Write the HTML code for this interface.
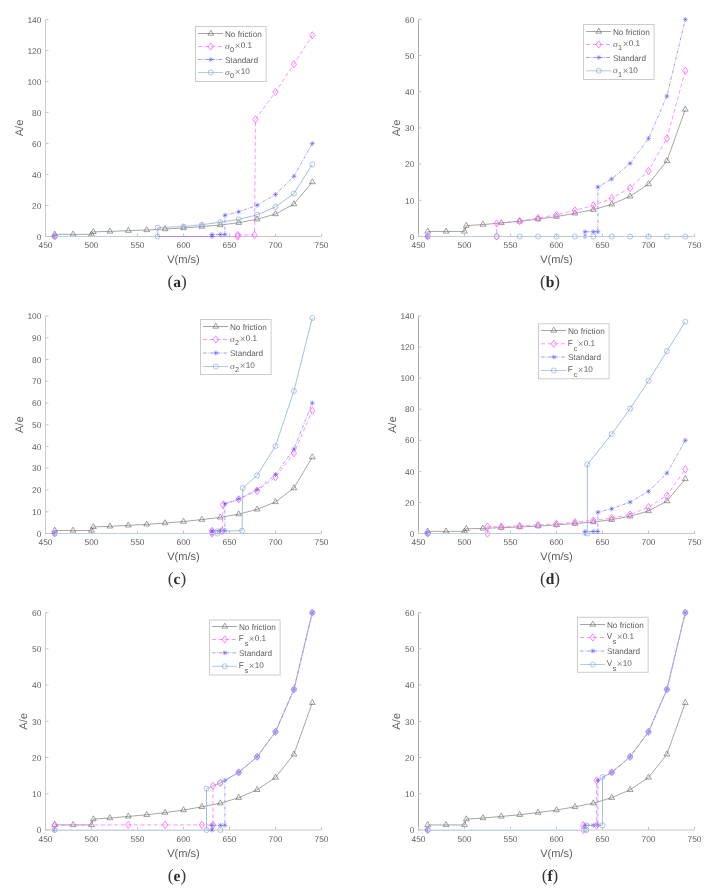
<!DOCTYPE html>
<html><head><meta charset="utf-8"><title>Figure</title>
<style>
html,body{margin:0;padding:0;background:#fff;}
body{width:721px;height:890px;overflow:hidden;}
svg{display:block;will-change:transform;text-rendering:geometricPrecision;font-family:"Liberation Sans",sans-serif;}
</style></head>
<body>
<svg width="721" height="890" viewBox="0 0 721 890">
<rect width="721" height="890" fill="#fff"/>
<path d="M45.5 236.5L321.5 236.5" fill="none" stroke="#c8c8c8" stroke-width="1.0"/>
<path d="M45.5 19.4L45.5 237" fill="none" stroke="#cacaca" stroke-width="1.0"/>
<path d="M45.5 236.5L45.5 233.5M91.5 236.5L91.5 233.5M137.5 236.5L137.5 233.5M183.5 236.5L183.5 233.5M229.5 236.5L229.5 233.5M275.5 236.5L275.5 233.5M321.5 236.5L321.5 233.5M45.5 236.5L48.5 236.5M45.5 205.49L48.5 205.49M45.5 174.47L48.5 174.47M45.5 143.46L48.5 143.46M45.5 112.44L48.5 112.44M45.5 81.43L48.5 81.43M45.5 50.41L48.5 50.41M45.5 19.4L48.5 19.4" fill="none" stroke="#c6c6c6" stroke-width="1.0"/>
<g font-size="8.4" fill="#5e5e5e"><text x="45.5" y="248.3" text-anchor="middle">450</text><text x="91.5" y="248.3" text-anchor="middle">500</text><text x="137.5" y="248.3" text-anchor="middle">550</text><text x="183.5" y="248.3" text-anchor="middle">600</text><text x="229.5" y="248.3" text-anchor="middle">650</text><text x="275.5" y="248.3" text-anchor="middle">700</text><text x="321.5" y="248.3" text-anchor="middle">750</text><text x="41.4" y="239.7" text-anchor="end">0</text><text x="41.4" y="208.69" text-anchor="end">20</text><text x="41.4" y="177.67" text-anchor="end">40</text><text x="41.4" y="146.66" text-anchor="end">60</text><text x="41.4" y="115.64" text-anchor="end">80</text><text x="41.4" y="84.63" text-anchor="end">100</text><text x="41.4" y="53.61" text-anchor="end">120</text><text x="41.4" y="22.6" text-anchor="end">140</text></g>
<text x="183.5" y="263.1" text-anchor="middle" font-size="11.1" fill="#5e5e5e">V(m/s)</text>
<text transform="translate(22.5 127.95) rotate(-90)" text-anchor="middle" font-size="11.1" fill="#5e5e5e">A/e</text>
<text x="177" y="287.3" text-anchor="middle" font-family="Liberation Serif, serif" font-size="17.2" fill="#3a3a3a">(<tspan font-size="15.5" font-weight="bold" fill="#2a2a2a" dy="-0.6">a</tspan><tspan dy="0.6">)</tspan></text>
<path d="M54.7 234.33L73.1 234.33L91.5 234.33L93.34 231.85L109.9 231.38L128.3 230.68L146.7 229.99L165.1 229.06L183.5 227.97L201.9 226.58L220.3 225.02L238.7 222.7L257.1 219.29L275.5 214.01L293.9 204.09L312.3 182.07" fill="none" stroke="#808080" stroke-width="0.7"/>
<g fill="none" stroke="#606060" stroke-width="0.6"><path d="M54.7 231L57.6 236L51.8 236Z"/><path d="M73.1 231L76 236L70.2 236Z"/><path d="M91.5 231L94.4 236L88.6 236Z"/><path d="M93.34 228.51L96.24 233.51L90.44 233.51Z"/><path d="M109.9 228.05L112.8 233.05L107 233.05Z"/><path d="M128.3 227.35L131.2 232.35L125.4 232.35Z"/><path d="M146.7 226.65L149.6 231.65L143.8 231.65Z"/><path d="M165.1 225.72L168 230.72L162.2 230.72Z"/><path d="M183.5 224.64L186.4 229.64L180.6 229.64Z"/><path d="M201.9 223.24L204.8 228.24L199 228.24Z"/><path d="M220.3 221.69L223.2 226.69L217.4 226.69Z"/><path d="M238.7 219.37L241.6 224.37L235.8 224.37Z"/><path d="M257.1 215.95L260 220.95L254.2 220.95Z"/><path d="M275.5 210.68L278.4 215.68L272.6 215.68Z"/><path d="M293.9 200.76L296.8 205.76L291 205.76Z"/><path d="M312.3 178.74L315.2 183.74L309.4 183.74Z"/></g>
<path d="M54.7 236.5L237.78 236.5L237.78 234.95L254.52 234.95L255.44 119.42L275.5 91.97L293.9 64.22L312.3 35.37" fill="none" stroke="#ff66ff" stroke-width="0.7" stroke-dasharray="4 2.6"/>
<g fill="none" stroke="#ff4dff" stroke-width="0.7"><path d="M54.7 232.85L57.35 236.5L54.7 240.15L52.05 236.5Z"/><path d="M237.78 232.85L240.43 236.5L237.78 240.15L235.13 236.5Z"/><path d="M237.78 231.3L240.43 234.95L237.78 238.6L235.13 234.95Z"/><path d="M254.52 231.3L257.17 234.95L254.52 238.6L251.87 234.95Z"/><path d="M255.44 115.77L258.09 119.42L255.44 123.07L252.79 119.42Z"/><path d="M275.5 88.32L278.15 91.97L275.5 95.62L272.85 91.97Z"/><path d="M293.9 60.57L296.55 64.22L293.9 67.87L291.25 64.22Z"/><path d="M312.3 31.72L314.95 35.37L312.3 39.02L309.65 35.37Z"/></g>
<path d="M54.7 236.5L212.02 236.5L212.02 234.48L220.3 234.48L224.9 234.48L224.9 215.26L238.7 211.84L257.1 205.18L275.5 194.48L293.9 176.33L312.3 143.46" fill="none" stroke="#7070ff" stroke-width="0.65" stroke-dasharray="3.4 1.3 0.8 1.3"/>
<g fill="none" stroke="#4f4fff" stroke-width="0.5"><path d="M52.2 236.5L57.2 236.5M54.7 234L54.7 239M52.9 234.7L56.5 238.3M52.9 238.3L56.5 234.7"/><path d="M209.52 236.5L214.52 236.5M212.02 234L212.02 239M210.22 234.7L213.82 238.3M210.22 238.3L213.82 234.7"/><path d="M209.52 234.48L214.52 234.48M212.02 231.98L212.02 236.98M210.22 232.68L213.82 236.28M210.22 236.28L213.82 232.68"/><path d="M217.8 234.48L222.8 234.48M220.3 231.98L220.3 236.98M218.5 232.68L222.1 236.28M218.5 236.28L222.1 232.68"/><path d="M222.4 234.48L227.4 234.48M224.9 231.98L224.9 236.98M223.1 232.68L226.7 236.28M223.1 236.28L226.7 232.68"/><path d="M222.4 215.26L227.4 215.26M224.9 212.76L224.9 217.76M223.1 213.46L226.7 217.06M223.1 217.06L226.7 213.46"/><path d="M236.2 211.84L241.2 211.84M238.7 209.34L238.7 214.34M236.9 210.04L240.5 213.64M236.9 213.64L240.5 210.04"/><path d="M254.6 205.18L259.6 205.18M257.1 202.68L257.1 207.68M255.3 203.38L258.9 206.98M255.3 206.98L258.9 203.38"/><path d="M273 194.48L278 194.48M275.5 191.98L275.5 196.98M273.7 192.68L277.3 196.28M273.7 196.28L277.3 192.68"/><path d="M291.4 176.33L296.4 176.33M293.9 173.83L293.9 178.83M292.1 174.53L295.7 178.13M292.1 178.13L295.7 174.53"/><path d="M309.8 143.46L314.8 143.46M312.3 140.96L312.3 145.96M310.5 141.66L314.1 145.26M310.5 145.26L314.1 141.66"/></g>
<path d="M54.7 236.5L157.74 236.5L157.74 227.66L183.5 226.5L201.9 224.71L220.3 222.23L238.7 219.44L257.1 214.79L275.5 206.88L293.9 193.55L312.3 164.39" fill="none" stroke="#98b2dc" stroke-width="0.85"/>
<path d="M54.7 236.5L157.74 236.5" fill="none" stroke="#bfcce4" stroke-width="1"/>
<g fill="none" stroke="#8aa4d2" stroke-width="0.65"><circle cx="54.7" cy="236.5" r="2.55"/><circle cx="157.74" cy="236.5" r="2.55"/><circle cx="157.74" cy="227.66" r="2.55"/><circle cx="183.5" cy="226.5" r="2.55"/><circle cx="201.9" cy="224.71" r="2.55"/><circle cx="220.3" cy="222.23" r="2.55"/><circle cx="238.7" cy="219.44" r="2.55"/><circle cx="257.1" cy="214.79" r="2.55"/><circle cx="275.5" cy="206.88" r="2.55"/><circle cx="293.9" cy="193.55" r="2.55"/><circle cx="312.3" cy="164.39" r="2.55"/></g>
<rect x="195.5" y="26.5" width="70.6" height="55" fill="#fff" stroke="#cccccc" stroke-width="1"/>
<path d="M198.1 33.5H223.1" stroke="#808080" stroke-width="0.7"/>
<g fill="none" stroke="#606060" stroke-width="0.6"><path d="M210.8 30.17L213.7 35.17L207.9 35.17Z"/></g>
<path d="M198.1 46.5H223.1" stroke="#ff66ff" stroke-width="0.7" stroke-dasharray="4 2.6"/>
<g fill="none" stroke="#ff4dff" stroke-width="0.7"><path d="M210.8 42.85L213.45 46.5L210.8 50.15L208.15 46.5Z"/></g>
<path d="M198.1 59.5H223.1" stroke="#7070ff" stroke-width="0.7" stroke-dasharray="3.4 1.3 0.8 1.3"/>
<g fill="none" stroke="#4f4fff" stroke-width="0.5"><path d="M208.3 59.5L213.3 59.5M210.8 57L210.8 62M209 57.7L212.6 61.3M209 61.3L212.6 57.7"/></g>
<path d="M198.1 72.5H223.1" stroke="#98b2dc" stroke-width="0.7"/>
<g fill="none" stroke="#8aa4d2" stroke-width="0.65"><circle cx="210.8" cy="72.5" r="2.55"/></g>
<text x="224.9" y="36.8" font-size="8.2" fill="#5e5e5e">No friction</text>
<text transform="translate(225 49) scale(1.18 1)" font-family="Liberation Serif, serif" font-style="italic" font-size="8.2" fill="#6a6a6a">&#963;</text><text x="230" y="52.2" font-size="7.3" fill="#5e5e5e">0</text><text x="234.7" y="49.3" font-size="9.8" fill="#8a8a8a">&#215;</text><text x="240.7" y="48.2" font-size="8.2" fill="#5e5e5e">0.1</text>
<text x="224.9" y="62.6" font-size="8.2" fill="#5e5e5e">Standard</text>
<text transform="translate(225 75) scale(1.18 1)" font-family="Liberation Serif, serif" font-style="italic" font-size="8.2" fill="#6a6a6a">&#963;</text><text x="230" y="78.2" font-size="7.3" fill="#5e5e5e">0</text><text x="234.7" y="75.3" font-size="9.8" fill="#8a8a8a">&#215;</text><text x="240.7" y="74.2" font-size="8.2" fill="#5e5e5e">10</text>
<path d="M418.5 236.5L694.5 236.5" fill="none" stroke="#c8c8c8" stroke-width="1.0"/>
<path d="M418.5 19.4L418.5 237" fill="none" stroke="#a9a9a9" stroke-width="1.0"/>
<path d="M418.5 236.5L418.5 233.5M464.5 236.5L464.5 233.5M510.5 236.5L510.5 233.5M556.5 236.5L556.5 233.5M602.5 236.5L602.5 233.5M648.5 236.5L648.5 233.5M694.5 236.5L694.5 233.5M418.5 236.5L421.5 236.5M418.5 200.32L421.5 200.32M418.5 164.13L421.5 164.13M418.5 127.95L421.5 127.95M418.5 91.77L421.5 91.77M418.5 55.58L421.5 55.58M418.5 19.4L421.5 19.4" fill="none" stroke="#c6c6c6" stroke-width="1.0"/>
<g font-size="8.4" fill="#5e5e5e"><text x="418.5" y="248.3" text-anchor="middle">450</text><text x="464.5" y="248.3" text-anchor="middle">500</text><text x="510.5" y="248.3" text-anchor="middle">550</text><text x="556.5" y="248.3" text-anchor="middle">600</text><text x="602.5" y="248.3" text-anchor="middle">650</text><text x="648.5" y="248.3" text-anchor="middle">700</text><text x="694.5" y="248.3" text-anchor="middle">750</text><text x="414.4" y="239.7" text-anchor="end">0</text><text x="414.4" y="203.52" text-anchor="end">10</text><text x="414.4" y="167.33" text-anchor="end">20</text><text x="414.4" y="131.15" text-anchor="end">30</text><text x="414.4" y="94.97" text-anchor="end">40</text><text x="414.4" y="58.78" text-anchor="end">50</text><text x="414.4" y="22.6" text-anchor="end">60</text></g>
<text x="556.5" y="263.1" text-anchor="middle" font-size="11.1" fill="#5e5e5e">V(m/s)</text>
<text transform="translate(400.1 127.95) rotate(-90)" text-anchor="middle" font-size="11.1" fill="#5e5e5e">A/e</text>
<text x="550" y="287.3" text-anchor="middle" font-family="Liberation Serif, serif" font-size="17.2" fill="#3a3a3a">(<tspan font-size="15.5" font-weight="bold" fill="#2a2a2a" dy="-0.6">b</tspan><tspan dy="0.6">)</tspan></text>
<path d="M427.7 231.43L446.1 231.43L464.5 231.43L466.34 225.65L482.9 224.56L501.3 222.93L519.7 221.3L538.1 219.13L556.5 216.6L574.9 213.34L593.3 209.72L611.7 204.3L630.1 196.34L648.5 184.03L666.9 160.88L685.3 109.5" fill="none" stroke="#808080" stroke-width="0.7"/>
<g fill="none" stroke="#606060" stroke-width="0.6"><path d="M427.7 228.1L430.6 233.1L424.8 233.1Z"/><path d="M446.1 228.1L449 233.1L443.2 233.1Z"/><path d="M464.5 228.1L467.4 233.1L461.6 233.1Z"/><path d="M466.34 222.31L469.24 227.31L463.44 227.31Z"/><path d="M482.9 221.23L485.8 226.23L480 226.23Z"/><path d="M501.3 219.6L504.2 224.6L498.4 224.6Z"/><path d="M519.7 217.97L522.6 222.97L516.8 222.97Z"/><path d="M538.1 215.8L541 220.8L535.2 220.8Z"/><path d="M556.5 213.27L559.4 218.27L553.6 218.27Z"/><path d="M574.9 210.01L577.8 215.01L572 215.01Z"/><path d="M593.3 206.39L596.2 211.39L590.4 211.39Z"/><path d="M611.7 200.96L614.6 205.96L608.8 205.96Z"/><path d="M630.1 193L633 198L627.2 198Z"/><path d="M648.5 180.7L651.4 185.7L645.6 185.7Z"/><path d="M666.9 157.54L669.8 162.54L664 162.54Z"/><path d="M685.3 106.16L688.2 111.16L682.4 111.16Z"/></g>
<path d="M427.7 236.5L496.7 236.5L496.7 223.47L519.7 221.12L538.1 218.05L556.5 214.79L574.9 210.45L593.3 205.38L611.7 198.15L630.1 188.01L648.5 171.01L666.9 138.44L685.3 70.78" fill="none" stroke="#ff66ff" stroke-width="0.7" stroke-dasharray="4 2.6"/>
<g fill="none" stroke="#ff4dff" stroke-width="0.7"><path d="M427.7 232.85L430.35 236.5L427.7 240.15L425.05 236.5Z"/><path d="M496.7 232.85L499.35 236.5L496.7 240.15L494.05 236.5Z"/><path d="M496.7 219.82L499.35 223.47L496.7 227.12L494.05 223.47Z"/><path d="M519.7 217.47L522.35 221.12L519.7 224.77L517.05 221.12Z"/><path d="M538.1 214.4L540.75 218.05L538.1 221.7L535.45 218.05Z"/><path d="M556.5 211.14L559.15 214.79L556.5 218.44L553.85 214.79Z"/><path d="M574.9 206.8L577.55 210.45L574.9 214.1L572.25 210.45Z"/><path d="M593.3 201.73L595.95 205.38L593.3 209.03L590.65 205.38Z"/><path d="M611.7 194.5L614.35 198.15L611.7 201.8L609.05 198.15Z"/><path d="M630.1 184.36L632.75 188.01L630.1 191.66L627.45 188.01Z"/><path d="M648.5 167.36L651.15 171.01L648.5 174.66L645.85 171.01Z"/><path d="M666.9 134.79L669.55 138.44L666.9 142.09L664.25 138.44Z"/><path d="M685.3 67.13L687.95 70.78L685.3 74.43L682.65 70.78Z"/></g>
<path d="M427.7 236.5L585.02 236.5L585.02 231.8L593.3 231.8L597.9 231.8L597.9 186.93L611.7 178.97L630.1 163.41L648.5 138.44L666.9 96.11L685.3 19.4" fill="none" stroke="#7070ff" stroke-width="0.65" stroke-dasharray="3.4 1.3 0.8 1.3"/>
<g fill="none" stroke="#4f4fff" stroke-width="0.5"><path d="M425.2 236.5L430.2 236.5M427.7 234L427.7 239M425.9 234.7L429.5 238.3M425.9 238.3L429.5 234.7"/><path d="M582.52 236.5L587.52 236.5M585.02 234L585.02 239M583.22 234.7L586.82 238.3M583.22 238.3L586.82 234.7"/><path d="M582.52 231.8L587.52 231.8M585.02 229.3L585.02 234.3M583.22 230L586.82 233.6M583.22 233.6L586.82 230"/><path d="M590.8 231.8L595.8 231.8M593.3 229.3L593.3 234.3M591.5 230L595.1 233.6M591.5 233.6L595.1 230"/><path d="M595.4 231.8L600.4 231.8M597.9 229.3L597.9 234.3M596.1 230L599.7 233.6M596.1 233.6L599.7 230"/><path d="M595.4 186.93L600.4 186.93M597.9 184.43L597.9 189.43M596.1 185.13L599.7 188.73M596.1 188.73L599.7 185.13"/><path d="M609.2 178.97L614.2 178.97M611.7 176.47L611.7 181.47M609.9 177.17L613.5 180.77M609.9 180.77L613.5 177.17"/><path d="M627.6 163.41L632.6 163.41M630.1 160.91L630.1 165.91M628.3 161.61L631.9 165.21M628.3 165.21L631.9 161.61"/><path d="M646 138.44L651 138.44M648.5 135.94L648.5 140.94M646.7 136.64L650.3 140.24M646.7 140.24L650.3 136.64"/><path d="M664.4 96.11L669.4 96.11M666.9 93.61L666.9 98.61M665.1 94.31L668.7 97.91M665.1 97.91L668.7 94.31"/><path d="M682.8 19.4L687.8 19.4M685.3 16.9L685.3 21.9M683.5 17.6L687.1 21.2M683.5 21.2L687.1 17.6"/></g>
<path d="M427.7 236.5L496.7 236.5L519.7 236.5L538.1 236.5L556.5 236.5L574.9 236.5L593.3 236.5L611.7 236.5L630.1 236.5L648.5 236.5L666.9 236.5L685.3 236.5" fill="none" stroke="#98b2dc" stroke-width="0.85"/>
<path d="M427.7 236.5L496.7 236.5M496.7 236.5L519.7 236.5M519.7 236.5L538.1 236.5M538.1 236.5L556.5 236.5M556.5 236.5L574.9 236.5M574.9 236.5L593.3 236.5M593.3 236.5L611.7 236.5M611.7 236.5L630.1 236.5M630.1 236.5L648.5 236.5M648.5 236.5L666.9 236.5M666.9 236.5L685.3 236.5" fill="none" stroke="#bfcce4" stroke-width="1"/>
<g fill="none" stroke="#8aa4d2" stroke-width="0.65"><circle cx="427.7" cy="236.5" r="2.55"/><circle cx="496.7" cy="236.5" r="2.55"/><circle cx="519.7" cy="236.5" r="2.55"/><circle cx="538.1" cy="236.5" r="2.55"/><circle cx="556.5" cy="236.5" r="2.55"/><circle cx="574.9" cy="236.5" r="2.55"/><circle cx="593.3" cy="236.5" r="2.55"/><circle cx="611.7" cy="236.5" r="2.55"/><circle cx="630.1" cy="236.5" r="2.55"/><circle cx="648.5" cy="236.5" r="2.55"/><circle cx="666.9" cy="236.5" r="2.55"/><circle cx="685.3" cy="236.5" r="2.55"/></g>
<rect x="583.5" y="24.5" width="70.6" height="55" fill="#fff" stroke="#cccccc" stroke-width="1"/>
<path d="M586.1 31.5H611.1" stroke="#808080" stroke-width="0.7"/>
<g fill="none" stroke="#606060" stroke-width="0.6"><path d="M598.8 28.17L601.7 33.17L595.9 33.17Z"/></g>
<path d="M586.1 44.5H611.1" stroke="#ff66ff" stroke-width="0.7" stroke-dasharray="4 2.6"/>
<g fill="none" stroke="#ff4dff" stroke-width="0.7"><path d="M598.8 40.85L601.45 44.5L598.8 48.15L596.15 44.5Z"/></g>
<path d="M586.1 57.5H611.1" stroke="#7070ff" stroke-width="0.7" stroke-dasharray="3.4 1.3 0.8 1.3"/>
<g fill="none" stroke="#4f4fff" stroke-width="0.5"><path d="M596.3 57.5L601.3 57.5M598.8 55L598.8 60M597 55.7L600.6 59.3M597 59.3L600.6 55.7"/></g>
<path d="M586.1 70.8H611.1" stroke="#98b2dc" stroke-width="0.7"/>
<g fill="none" stroke="#8aa4d2" stroke-width="0.65"><circle cx="598.8" cy="70.8" r="2.55"/></g>
<text x="612.9" y="34.8" font-size="8.2" fill="#5e5e5e">No friction</text>
<text transform="translate(613 47) scale(1.18 1)" font-family="Liberation Serif, serif" font-style="italic" font-size="8.2" fill="#6a6a6a">&#963;</text><text x="618" y="50.2" font-size="7.3" fill="#5e5e5e">1</text><text x="622.7" y="47.3" font-size="9.8" fill="#8a8a8a">&#215;</text><text x="628.7" y="46.2" font-size="8.2" fill="#5e5e5e">0.1</text>
<text x="612.9" y="60.6" font-size="8.2" fill="#5e5e5e">Standard</text>
<text transform="translate(613 73.3) scale(1.18 1)" font-family="Liberation Serif, serif" font-style="italic" font-size="8.2" fill="#6a6a6a">&#963;</text><text x="618" y="76.5" font-size="7.3" fill="#5e5e5e">1</text><text x="622.7" y="73.6" font-size="9.8" fill="#8a8a8a">&#215;</text><text x="628.7" y="72.5" font-size="8.2" fill="#5e5e5e">10</text>
<path d="M45.5 533.5L321.5 533.5" fill="none" stroke="#c8c8c8" stroke-width="1.0"/>
<path d="M45.5 316L45.5 534" fill="none" stroke="#cacaca" stroke-width="1.0"/>
<path d="M45.5 533.5L45.5 530.5M91.5 533.5L91.5 530.5M137.5 533.5L137.5 530.5M183.5 533.5L183.5 530.5M229.5 533.5L229.5 530.5M275.5 533.5L275.5 530.5M321.5 533.5L321.5 530.5M45.5 533.5L48.5 533.5M45.5 511.75L48.5 511.75M45.5 490L48.5 490M45.5 468.25L48.5 468.25M45.5 446.5L48.5 446.5M45.5 424.75L48.5 424.75M45.5 403L48.5 403M45.5 381.25L48.5 381.25M45.5 359.5L48.5 359.5M45.5 337.75L48.5 337.75M45.5 316L48.5 316" fill="none" stroke="#c6c6c6" stroke-width="1.0"/>
<g font-size="8.4" fill="#5e5e5e"><text x="45.5" y="545.3" text-anchor="middle">450</text><text x="91.5" y="545.3" text-anchor="middle">500</text><text x="137.5" y="545.3" text-anchor="middle">550</text><text x="183.5" y="545.3" text-anchor="middle">600</text><text x="229.5" y="545.3" text-anchor="middle">650</text><text x="275.5" y="545.3" text-anchor="middle">700</text><text x="321.5" y="545.3" text-anchor="middle">750</text><text x="41.4" y="536.7" text-anchor="end">0</text><text x="41.4" y="514.95" text-anchor="end">10</text><text x="41.4" y="493.2" text-anchor="end">20</text><text x="41.4" y="471.45" text-anchor="end">30</text><text x="41.4" y="449.7" text-anchor="end">40</text><text x="41.4" y="427.95" text-anchor="end">50</text><text x="41.4" y="406.2" text-anchor="end">60</text><text x="41.4" y="384.45" text-anchor="end">70</text><text x="41.4" y="362.7" text-anchor="end">80</text><text x="41.4" y="340.95" text-anchor="end">90</text><text x="41.4" y="319.2" text-anchor="end">100</text></g>
<text x="183.5" y="560.1" text-anchor="middle" font-size="11.1" fill="#5e5e5e">V(m/s)</text>
<text transform="translate(22.5 424.75) rotate(-90)" text-anchor="middle" font-size="11.1" fill="#5e5e5e">A/e</text>
<text x="177" y="584.3" text-anchor="middle" font-family="Liberation Serif, serif" font-size="17.2" fill="#3a3a3a">(<tspan font-size="15.5" font-weight="bold" fill="#2a2a2a" dy="-0.6">c</tspan><tspan dy="0.6">)</tspan></text>
<path d="M54.7 530.46L73.1 530.46L91.5 530.46L93.34 526.98L109.9 526.32L128.3 525.34L146.7 524.37L165.1 523.06L183.5 521.54L201.9 519.58L220.3 517.4L238.7 514.14L257.1 509.36L275.5 501.96L293.9 488.04L312.3 457.16" fill="none" stroke="#808080" stroke-width="0.7"/>
<g fill="none" stroke="#606060" stroke-width="0.6"><path d="M54.7 527.12L57.6 532.12L51.8 532.12Z"/><path d="M73.1 527.12L76 532.12L70.2 532.12Z"/><path d="M91.5 527.12L94.4 532.12L88.6 532.12Z"/><path d="M93.34 523.64L96.24 528.64L90.44 528.64Z"/><path d="M109.9 522.99L112.8 527.99L107 527.99Z"/><path d="M128.3 522.01L131.2 527.01L125.4 527.01Z"/><path d="M146.7 521.03L149.6 526.03L143.8 526.03Z"/><path d="M165.1 519.73L168 524.73L162.2 524.73Z"/><path d="M183.5 518.2L186.4 523.2L180.6 523.2Z"/><path d="M201.9 516.25L204.8 521.25L199 521.25Z"/><path d="M220.3 514.07L223.2 519.07L217.4 519.07Z"/><path d="M238.7 510.81L241.6 515.81L235.8 515.81Z"/><path d="M257.1 506.02L260 511.02L254.2 511.02Z"/><path d="M275.5 498.63L278.4 503.63L272.6 503.63Z"/><path d="M293.9 484.71L296.8 489.71L291 489.71Z"/><path d="M312.3 453.82L315.2 458.82L309.4 458.82Z"/></g>
<path d="M54.7 533.5L212.02 533.5L212.02 530.89L222.14 530.89L223.06 504.57L238.7 499.35L257.1 490.87L275.5 477.17L293.9 453.24L312.3 410.83" fill="none" stroke="#ff66ff" stroke-width="0.7" stroke-dasharray="4 2.6"/>
<g fill="none" stroke="#ff4dff" stroke-width="0.7"><path d="M54.7 529.85L57.35 533.5L54.7 537.15L52.05 533.5Z"/><path d="M212.02 529.85L214.67 533.5L212.02 537.15L209.37 533.5Z"/><path d="M212.02 527.24L214.67 530.89L212.02 534.54L209.37 530.89Z"/><path d="M222.14 527.24L224.79 530.89L222.14 534.54L219.49 530.89Z"/><path d="M223.06 500.92L225.71 504.57L223.06 508.22L220.41 504.57Z"/><path d="M238.7 495.7L241.35 499.35L238.7 503L236.05 499.35Z"/><path d="M257.1 487.22L259.75 490.87L257.1 494.52L254.45 490.87Z"/><path d="M275.5 473.52L278.15 477.17L275.5 480.82L272.85 477.17Z"/><path d="M293.9 449.59L296.55 453.24L293.9 456.89L291.25 453.24Z"/><path d="M312.3 407.18L314.95 410.83L312.3 414.48L309.65 410.83Z"/></g>
<path d="M54.7 533.5L212.02 533.5L212.02 530.67L220.3 530.67L224.9 530.67L224.9 503.7L238.7 498.92L257.1 489.56L275.5 474.56L293.9 449.11L312.3 403" fill="none" stroke="#7070ff" stroke-width="0.65" stroke-dasharray="3.4 1.3 0.8 1.3"/>
<g fill="none" stroke="#4f4fff" stroke-width="0.5"><path d="M52.2 533.5L57.2 533.5M54.7 531L54.7 536M52.9 531.7L56.5 535.3M52.9 535.3L56.5 531.7"/><path d="M209.52 533.5L214.52 533.5M212.02 531L212.02 536M210.22 531.7L213.82 535.3M210.22 535.3L213.82 531.7"/><path d="M209.52 530.67L214.52 530.67M212.02 528.17L212.02 533.17M210.22 528.87L213.82 532.47M210.22 532.47L213.82 528.87"/><path d="M217.8 530.67L222.8 530.67M220.3 528.17L220.3 533.17M218.5 528.87L222.1 532.47M218.5 532.47L222.1 528.87"/><path d="M222.4 530.67L227.4 530.67M224.9 528.17L224.9 533.17M223.1 528.87L226.7 532.47M223.1 532.47L226.7 528.87"/><path d="M222.4 503.7L227.4 503.7M224.9 501.2L224.9 506.2M223.1 501.9L226.7 505.5M223.1 505.5L226.7 501.9"/><path d="M236.2 498.92L241.2 498.92M238.7 496.42L238.7 501.42M236.9 497.12L240.5 500.72M236.9 500.72L240.5 497.12"/><path d="M254.6 489.56L259.6 489.56M257.1 487.06L257.1 492.06M255.3 487.76L258.9 491.37M255.3 491.37L258.9 487.76"/><path d="M273 474.56L278 474.56M275.5 472.06L275.5 477.06M273.7 472.76L277.3 476.36M273.7 476.36L277.3 472.76"/><path d="M291.4 449.11L296.4 449.11M293.9 446.61L293.9 451.61M292.1 447.31L295.7 450.91M292.1 450.91L295.7 447.31"/><path d="M309.8 403L314.8 403M312.3 400.5L312.3 405.5M310.5 401.2L314.1 404.8M310.5 404.8L314.1 401.2"/></g>
<path d="M54.7 533.5L217.54 533.5L217.54 531.33L242.1 530.67L242.75 488.04L257.1 475.43L275.5 446.06L293.9 391.04L312.3 317.96" fill="none" stroke="#98b2dc" stroke-width="0.85"/>
<path d="M54.7 533.5L217.54 533.5" fill="none" stroke="#bfcce4" stroke-width="1"/>
<g fill="none" stroke="#8aa4d2" stroke-width="0.65"><circle cx="54.7" cy="533.5" r="2.55"/><circle cx="217.54" cy="533.5" r="2.55"/><circle cx="217.54" cy="531.33" r="2.55"/><circle cx="242.1" cy="530.67" r="2.55"/><circle cx="242.75" cy="488.04" r="2.55"/><circle cx="257.1" cy="475.43" r="2.55"/><circle cx="275.5" cy="446.06" r="2.55"/><circle cx="293.9" cy="391.04" r="2.55"/><circle cx="312.3" cy="317.96" r="2.55"/></g>
<rect x="200.5" y="319.5" width="70.6" height="55" fill="#fff" stroke="#cccccc" stroke-width="1"/>
<path d="M203.1 326.5H228.1" stroke="#808080" stroke-width="0.7"/>
<g fill="none" stroke="#606060" stroke-width="0.6"><path d="M215.8 323.17L218.7 328.17L212.9 328.17Z"/></g>
<path d="M203.1 339.5H228.1" stroke="#ff66ff" stroke-width="0.7" stroke-dasharray="4 2.6"/>
<g fill="none" stroke="#ff4dff" stroke-width="0.7"><path d="M215.8 335.85L218.45 339.5L215.8 343.15L213.15 339.5Z"/></g>
<path d="M203.1 353H228.1" stroke="#7070ff" stroke-width="0.7" stroke-dasharray="3.4 1.3 0.8 1.3"/>
<g fill="none" stroke="#4f4fff" stroke-width="0.5"><path d="M213.3 353L218.3 353M215.8 350.5L215.8 355.5M214 351.2L217.6 354.8M214 354.8L217.6 351.2"/></g>
<path d="M203.1 366.5H228.1" stroke="#98b2dc" stroke-width="0.7"/>
<g fill="none" stroke="#8aa4d2" stroke-width="0.65"><circle cx="215.8" cy="366.5" r="2.55"/></g>
<text x="229.9" y="329.8" font-size="8.2" fill="#5e5e5e">No friction</text>
<text transform="translate(230 342) scale(1.18 1)" font-family="Liberation Serif, serif" font-style="italic" font-size="8.2" fill="#6a6a6a">&#963;</text><text x="235" y="345.2" font-size="7.3" fill="#5e5e5e">2</text><text x="239.7" y="342.3" font-size="9.8" fill="#8a8a8a">&#215;</text><text x="245.7" y="341.2" font-size="8.2" fill="#5e5e5e">0.1</text>
<text x="229.9" y="356.1" font-size="8.2" fill="#5e5e5e">Standard</text>
<text transform="translate(230 369) scale(1.18 1)" font-family="Liberation Serif, serif" font-style="italic" font-size="8.2" fill="#6a6a6a">&#963;</text><text x="235" y="372.2" font-size="7.3" fill="#5e5e5e">2</text><text x="239.7" y="369.3" font-size="9.8" fill="#8a8a8a">&#215;</text><text x="245.7" y="368.2" font-size="8.2" fill="#5e5e5e">10</text>
<path d="M418.5 533.5L694.5 533.5" fill="none" stroke="#c8c8c8" stroke-width="1.0"/>
<path d="M418.5 316L418.5 534" fill="none" stroke="#a9a9a9" stroke-width="1.0"/>
<path d="M418.5 533.5L418.5 530.5M464.5 533.5L464.5 530.5M510.5 533.5L510.5 530.5M556.5 533.5L556.5 530.5M602.5 533.5L602.5 530.5M648.5 533.5L648.5 530.5M694.5 533.5L694.5 530.5M418.5 533.5L421.5 533.5M418.5 502.43L421.5 502.43M418.5 471.36L421.5 471.36M418.5 440.29L421.5 440.29M418.5 409.21L421.5 409.21M418.5 378.14L421.5 378.14M418.5 347.07L421.5 347.07M418.5 316L421.5 316" fill="none" stroke="#c6c6c6" stroke-width="1.0"/>
<g font-size="8.4" fill="#5e5e5e"><text x="418.5" y="545.3" text-anchor="middle">450</text><text x="464.5" y="545.3" text-anchor="middle">500</text><text x="510.5" y="545.3" text-anchor="middle">550</text><text x="556.5" y="545.3" text-anchor="middle">600</text><text x="602.5" y="545.3" text-anchor="middle">650</text><text x="648.5" y="545.3" text-anchor="middle">700</text><text x="694.5" y="545.3" text-anchor="middle">750</text><text x="414.4" y="536.7" text-anchor="end">0</text><text x="414.4" y="505.63" text-anchor="end">20</text><text x="414.4" y="474.56" text-anchor="end">40</text><text x="414.4" y="443.49" text-anchor="end">60</text><text x="414.4" y="412.41" text-anchor="end">80</text><text x="414.4" y="381.34" text-anchor="end">100</text><text x="414.4" y="350.27" text-anchor="end">120</text><text x="414.4" y="319.2" text-anchor="end">140</text></g>
<text x="556.5" y="560.1" text-anchor="middle" font-size="11.1" fill="#5e5e5e">V(m/s)</text>
<text transform="translate(395.5 424.75) rotate(-90)" text-anchor="middle" font-size="11.1" fill="#5e5e5e">A/e</text>
<text x="550" y="584.3" text-anchor="middle" font-family="Liberation Serif, serif" font-size="17.2" fill="#3a3a3a">(<tspan font-size="15.5" font-weight="bold" fill="#2a2a2a" dy="-0.6">d</tspan><tspan dy="0.6">)</tspan></text>
<path d="M427.7 531.33L446.1 531.33L464.5 531.33L466.34 528.84L482.9 528.37L501.3 527.67L519.7 526.98L538.1 526.04L556.5 524.96L574.9 523.56L593.3 522L611.7 519.67L630.1 516.26L648.5 510.97L666.9 501.03L685.3 478.97" fill="none" stroke="#808080" stroke-width="0.7"/>
<g fill="none" stroke="#606060" stroke-width="0.6"><path d="M427.7 527.99L430.6 532.99L424.8 532.99Z"/><path d="M446.1 527.99L449 532.99L443.2 532.99Z"/><path d="M464.5 527.99L467.4 532.99L461.6 532.99Z"/><path d="M466.34 525.51L469.24 530.51L463.44 530.51Z"/><path d="M482.9 525.04L485.8 530.04L480 530.04Z"/><path d="M501.3 524.34L504.2 529.34L498.4 529.34Z"/><path d="M519.7 523.64L522.6 528.64L516.8 528.64Z"/><path d="M538.1 522.71L541 527.71L535.2 527.71Z"/><path d="M556.5 521.62L559.4 526.62L553.6 526.62Z"/><path d="M574.9 520.22L577.8 525.22L572 525.22Z"/><path d="M593.3 518.67L596.2 523.67L590.4 523.67Z"/><path d="M611.7 516.34L614.6 521.34L608.8 521.34Z"/><path d="M630.1 512.92L633 517.92L627.2 517.92Z"/><path d="M648.5 507.64L651.4 512.64L645.6 512.64Z"/><path d="M666.9 497.7L669.8 502.7L664 502.7Z"/><path d="M685.3 475.64L688.2 480.64L682.4 480.64Z"/></g>
<path d="M427.7 533.5L487.5 533.5L487.5 526.66L501.3 526.66L519.7 525.89L538.1 524.96L556.5 523.87L574.9 522.31L593.3 520.45L611.7 517.96L630.1 514.55L648.5 507.24L666.9 495.44L685.3 469.34" fill="none" stroke="#ff66ff" stroke-width="0.7" stroke-dasharray="4 2.6"/>
<g fill="none" stroke="#ff4dff" stroke-width="0.7"><path d="M427.7 529.85L430.35 533.5L427.7 537.15L425.05 533.5Z"/><path d="M487.5 529.85L490.15 533.5L487.5 537.15L484.85 533.5Z"/><path d="M487.5 523.01L490.15 526.66L487.5 530.31L484.85 526.66Z"/><path d="M501.3 523.01L503.95 526.66L501.3 530.31L498.65 526.66Z"/><path d="M519.7 522.24L522.35 525.89L519.7 529.54L517.05 525.89Z"/><path d="M538.1 521.31L540.75 524.96L538.1 528.61L535.45 524.96Z"/><path d="M556.5 520.22L559.15 523.87L556.5 527.52L553.85 523.87Z"/><path d="M574.9 518.66L577.55 522.31L574.9 525.96L572.25 522.31Z"/><path d="M593.3 516.8L595.95 520.45L593.3 524.1L590.65 520.45Z"/><path d="M611.7 514.31L614.35 517.96L611.7 521.61L609.05 517.96Z"/><path d="M630.1 510.9L632.75 514.55L630.1 518.2L627.45 514.55Z"/><path d="M648.5 503.59L651.15 507.24L648.5 510.89L645.85 507.24Z"/><path d="M666.9 491.79L669.55 495.44L666.9 499.09L664.25 495.44Z"/><path d="M685.3 465.69L687.95 469.34L685.3 472.99L682.65 469.34Z"/></g>
<path d="M427.7 533.5L585.02 533.5L585.02 531.48L593.3 531.48L597.9 531.48L597.9 512.22L611.7 508.8L630.1 502.12L648.5 491.4L666.9 473.22L685.3 440.29" fill="none" stroke="#7070ff" stroke-width="0.65" stroke-dasharray="3.4 1.3 0.8 1.3"/>
<g fill="none" stroke="#4f4fff" stroke-width="0.5"><path d="M425.2 533.5L430.2 533.5M427.7 531L427.7 536M425.9 531.7L429.5 535.3M425.9 535.3L429.5 531.7"/><path d="M582.52 533.5L587.52 533.5M585.02 531L585.02 536M583.22 531.7L586.82 535.3M583.22 535.3L586.82 531.7"/><path d="M582.52 531.48L587.52 531.48M585.02 528.98L585.02 533.98M583.22 529.68L586.82 533.28M583.22 533.28L586.82 529.68"/><path d="M590.8 531.48L595.8 531.48M593.3 528.98L593.3 533.98M591.5 529.68L595.1 533.28M591.5 533.28L595.1 529.68"/><path d="M595.4 531.48L600.4 531.48M597.9 528.98L597.9 533.98M596.1 529.68L599.7 533.28M596.1 533.28L599.7 529.68"/><path d="M595.4 512.22L600.4 512.22M597.9 509.72L597.9 514.72M596.1 510.42L599.7 514.02M596.1 514.02L599.7 510.42"/><path d="M609.2 508.8L614.2 508.8M611.7 506.3L611.7 511.3M609.9 507L613.5 510.6M609.9 510.6L613.5 507"/><path d="M627.6 502.12L632.6 502.12M630.1 499.62L630.1 504.62M628.3 500.32L631.9 503.92M628.3 503.92L631.9 500.32"/><path d="M646 491.4L651 491.4M648.5 488.9L648.5 493.9M646.7 489.6L650.3 493.2M646.7 493.2L650.3 489.6"/><path d="M664.4 473.22L669.4 473.22M666.9 470.72L666.9 475.72M665.1 471.42L668.7 475.02M665.1 475.02L668.7 471.42"/><path d="M682.8 440.29L687.8 440.29M685.3 437.79L685.3 442.79M683.5 438.49L687.1 442.09M683.5 442.09L687.1 438.49"/></g>
<path d="M427.7 533.5L587.32 533.5L587.32 464.52L611.7 434.07L630.1 408.59L648.5 380.78L666.9 351.11L685.3 321.75" fill="none" stroke="#98b2dc" stroke-width="0.85"/>
<path d="M427.7 533.5L587.32 533.5" fill="none" stroke="#bfcce4" stroke-width="1"/>
<g fill="none" stroke="#8aa4d2" stroke-width="0.65"><circle cx="427.7" cy="533.5" r="2.55"/><circle cx="587.32" cy="533.5" r="2.55"/><circle cx="587.32" cy="464.52" r="2.55"/><circle cx="611.7" cy="434.07" r="2.55"/><circle cx="630.1" cy="408.59" r="2.55"/><circle cx="648.5" cy="380.78" r="2.55"/><circle cx="666.9" cy="351.11" r="2.55"/><circle cx="685.3" cy="321.75" r="2.55"/></g>
<rect x="538.5" y="323.8" width="70.6" height="55" fill="#fff" stroke="#cccccc" stroke-width="1"/>
<path d="M541.1 330.5H566.1" stroke="#808080" stroke-width="0.7"/>
<g fill="none" stroke="#606060" stroke-width="0.6"><path d="M553.8 327.17L556.7 332.17L550.9 332.17Z"/></g>
<path d="M541.1 343.8H566.1" stroke="#ff66ff" stroke-width="0.7" stroke-dasharray="4 2.6"/>
<g fill="none" stroke="#ff4dff" stroke-width="0.7"><path d="M553.8 340.15L556.45 343.8L553.8 347.45L551.15 343.8Z"/></g>
<path d="M541.1 357H566.1" stroke="#7070ff" stroke-width="0.7" stroke-dasharray="3.4 1.3 0.8 1.3"/>
<g fill="none" stroke="#4f4fff" stroke-width="0.5"><path d="M551.3 357L556.3 357M553.8 354.5L553.8 359.5M552 355.2L555.6 358.8M552 358.8L555.6 355.2"/></g>
<path d="M541.1 370.5H566.1" stroke="#98b2dc" stroke-width="0.7"/>
<g fill="none" stroke="#8aa4d2" stroke-width="0.65"><circle cx="553.8" cy="370.5" r="2.55"/></g>
<text x="567.9" y="333.8" font-size="8.2" fill="#5e5e5e">No friction</text>
<text x="567.7" y="345.5" font-size="8.2" fill="#5e5e5e">F</text><text x="573.7" y="350.5" font-size="7.3" fill="#5e5e5e">c</text><text x="577.7" y="346.6" font-size="9.8" fill="#8a8a8a">&#215;</text><text x="583.7" y="345.5" font-size="8.2" fill="#5e5e5e">0.1</text>
<text x="567.9" y="360.1" font-size="8.2" fill="#5e5e5e">Standard</text>
<text x="567.7" y="372.2" font-size="8.2" fill="#5e5e5e">F</text><text x="573.7" y="377.2" font-size="7.3" fill="#5e5e5e">c</text><text x="577.7" y="373.3" font-size="9.8" fill="#8a8a8a">&#215;</text><text x="583.7" y="372.2" font-size="8.2" fill="#5e5e5e">10</text>
<path d="M45.5 830L321.5 830" fill="none" stroke="#c8c8c8" stroke-width="1.0"/>
<path d="M45.5 612.6L45.5 830.5" fill="none" stroke="#cacaca" stroke-width="1.0"/>
<path d="M45.5 830L45.5 827M91.5 830L91.5 827M137.5 830L137.5 827M183.5 830L183.5 827M229.5 830L229.5 827M275.5 830L275.5 827M321.5 830L321.5 827M45.5 830L48.5 830M45.5 793.77L48.5 793.77M45.5 757.53L48.5 757.53M45.5 721.3L48.5 721.3M45.5 685.07L48.5 685.07M45.5 648.83L48.5 648.83M45.5 612.6L48.5 612.6" fill="none" stroke="#c6c6c6" stroke-width="1.0"/>
<g font-size="8.4" fill="#5e5e5e"><text x="45.5" y="841.8" text-anchor="middle">450</text><text x="91.5" y="841.8" text-anchor="middle">500</text><text x="137.5" y="841.8" text-anchor="middle">550</text><text x="183.5" y="841.8" text-anchor="middle">600</text><text x="229.5" y="841.8" text-anchor="middle">650</text><text x="275.5" y="841.8" text-anchor="middle">700</text><text x="321.5" y="841.8" text-anchor="middle">750</text><text x="41.4" y="833.2" text-anchor="end">0</text><text x="41.4" y="796.97" text-anchor="end">10</text><text x="41.4" y="760.73" text-anchor="end">20</text><text x="41.4" y="724.5" text-anchor="end">30</text><text x="41.4" y="688.27" text-anchor="end">40</text><text x="41.4" y="652.03" text-anchor="end">50</text><text x="41.4" y="615.8" text-anchor="end">60</text></g>
<text x="183.5" y="856.6" text-anchor="middle" font-size="11.1" fill="#5e5e5e">V(m/s)</text>
<text transform="translate(27.1 721.3) rotate(-90)" text-anchor="middle" font-size="11.1" fill="#5e5e5e">A/e</text>
<text x="177" y="881.1" text-anchor="middle" font-family="Liberation Serif, serif" font-size="17.2" fill="#3a3a3a">(<tspan font-size="15.5" font-weight="bold" fill="#2a2a2a" dy="-0.6">e</tspan><tspan dy="0.6">)</tspan></text>
<path d="M54.7 824.93L73.1 824.93L91.5 824.93L93.34 819.13L109.9 818.04L128.3 816.41L146.7 814.78L165.1 812.61L183.5 810.07L201.9 806.81L220.3 803.19L238.7 797.75L257.1 789.78L275.5 777.46L293.9 754.27L312.3 702.82" fill="none" stroke="#808080" stroke-width="0.7"/>
<g fill="none" stroke="#606060" stroke-width="0.6"><path d="M54.7 821.59L57.6 826.59L51.8 826.59Z"/><path d="M73.1 821.59L76 826.59L70.2 826.59Z"/><path d="M91.5 821.59L94.4 826.59L88.6 826.59Z"/><path d="M93.34 815.8L96.24 820.8L90.44 820.8Z"/><path d="M109.9 814.71L112.8 819.71L107 819.71Z"/><path d="M128.3 813.08L131.2 818.08L125.4 818.08Z"/><path d="M146.7 811.45L149.6 816.45L143.8 816.45Z"/><path d="M165.1 809.27L168 814.27L162.2 814.27Z"/><path d="M183.5 806.74L186.4 811.74L180.6 811.74Z"/><path d="M201.9 803.48L204.8 808.48L199 808.48Z"/><path d="M220.3 799.85L223.2 804.85L217.4 804.85Z"/><path d="M238.7 794.42L241.6 799.42L235.8 799.42Z"/><path d="M257.1 786.45L260 791.45L254.2 791.45Z"/><path d="M275.5 774.13L278.4 779.13L272.6 779.13Z"/><path d="M293.9 750.94L296.8 755.94L291 755.94Z"/><path d="M312.3 699.49L315.2 704.49L309.4 704.49Z"/></g>
<path d="M54.7 824.93L128.3 824.93L165.1 824.93L201.9 824.93L212.94 824.93L212.94 785.8L220.3 782.9L238.7 772.39L257.1 756.81L275.5 731.81L293.9 689.41L312.3 612.6" fill="none" stroke="#ff66ff" stroke-width="0.7" stroke-dasharray="4 2.6"/>
<g fill="none" stroke="#ff4dff" stroke-width="0.7"><path d="M54.7 821.28L57.35 824.93L54.7 828.58L52.05 824.93Z"/><path d="M128.3 821.28L130.95 824.93L128.3 828.58L125.65 824.93Z"/><path d="M165.1 821.28L167.75 824.93L165.1 828.58L162.45 824.93Z"/><path d="M201.9 821.28L204.55 824.93L201.9 828.58L199.25 824.93Z"/><path d="M212.94 821.28L215.59 824.93L212.94 828.58L210.29 824.93Z"/><path d="M212.94 782.15L215.59 785.8L212.94 789.45L210.29 785.8Z"/><path d="M220.3 779.25L222.95 782.9L220.3 786.55L217.65 782.9Z"/><path d="M238.7 768.74L241.35 772.39L238.7 776.04L236.05 772.39Z"/><path d="M257.1 753.16L259.75 756.81L257.1 760.46L254.45 756.81Z"/><path d="M275.5 728.16L278.15 731.81L275.5 735.46L272.85 731.81Z"/><path d="M293.9 685.76L296.55 689.41L293.9 693.06L291.25 689.41Z"/><path d="M312.3 608.95L314.95 612.6L312.3 616.25L309.65 612.6Z"/></g>
<path d="M54.7 830L212.02 830L212.02 825.29L220.3 825.29L224.9 825.29L224.9 780.36L238.7 772.39L257.1 756.81L275.5 731.81L293.9 689.41L312.3 612.6" fill="none" stroke="#7070ff" stroke-width="0.65" stroke-dasharray="3.4 1.3 0.8 1.3"/>
<g fill="none" stroke="#4f4fff" stroke-width="0.5"><path d="M52.2 830L57.2 830M54.7 827.5L54.7 832.5M52.9 828.2L56.5 831.8M52.9 831.8L56.5 828.2"/><path d="M209.52 830L214.52 830M212.02 827.5L212.02 832.5M210.22 828.2L213.82 831.8M210.22 831.8L213.82 828.2"/><path d="M209.52 825.29L214.52 825.29M212.02 822.79L212.02 827.79M210.22 823.49L213.82 827.09M210.22 827.09L213.82 823.49"/><path d="M217.8 825.29L222.8 825.29M220.3 822.79L220.3 827.79M218.5 823.49L222.1 827.09M218.5 827.09L222.1 823.49"/><path d="M222.4 825.29L227.4 825.29M224.9 822.79L224.9 827.79M223.1 823.49L226.7 827.09M223.1 827.09L226.7 823.49"/><path d="M222.4 780.36L227.4 780.36M224.9 777.86L224.9 782.86M223.1 778.56L226.7 782.16M223.1 782.16L226.7 778.56"/><path d="M236.2 772.39L241.2 772.39M238.7 769.89L238.7 774.89M236.9 770.59L240.5 774.19M236.9 774.19L240.5 770.59"/><path d="M254.6 756.81L259.6 756.81M257.1 754.31L257.1 759.31M255.3 755.01L258.9 758.61M255.3 758.61L258.9 755.01"/><path d="M273 731.81L278 731.81M275.5 729.31L275.5 734.31M273.7 730.01L277.3 733.61M273.7 733.61L277.3 730.01"/><path d="M291.4 689.41L296.4 689.41M293.9 686.91L293.9 691.91M292.1 687.61L295.7 691.21M292.1 691.21L295.7 687.61"/><path d="M309.8 612.6L314.8 612.6M312.3 610.1L312.3 615.1M310.5 610.8L314.1 614.4M310.5 614.4L314.1 610.8"/></g>
<path d="M54.7 830L206.5 830L206.5 788.69L220.3 782.9L238.7 772.39L257.1 756.81L275.5 731.81L293.9 689.41L312.3 612.6" fill="none" stroke="#98b2dc" stroke-width="0.85"/>
<path d="M54.7 829.5L206.5 829.5" fill="none" stroke="#e4e7f7" stroke-width="1"/>
<path d="M54.7 830.5L206.5 830.5" fill="none" stroke="#c8d2e4" stroke-width="1"/>
<g fill="none" stroke="#8aa4d2" stroke-width="0.65"><circle cx="54.7" cy="830" r="2.55"/><circle cx="206.5" cy="830" r="2.55"/><circle cx="206.5" cy="788.69" r="2.55"/><circle cx="220.3" cy="782.9" r="2.55"/><circle cx="238.7" cy="772.39" r="2.55"/><circle cx="257.1" cy="756.81" r="2.55"/><circle cx="275.5" cy="731.81" r="2.55"/><circle cx="293.9" cy="689.41" r="2.55"/><circle cx="312.3" cy="612.6" r="2.55"/><circle cx="220.3" cy="830" r="2.55"/></g>
<rect x="209.5" y="620" width="70.6" height="55" fill="#fff" stroke="#cccccc" stroke-width="1"/>
<path d="M212.1 626.5H237.1" stroke="#808080" stroke-width="0.7"/>
<g fill="none" stroke="#606060" stroke-width="0.6"><path d="M224.8 623.17L227.7 628.17L221.9 628.17Z"/></g>
<path d="M212.1 639.5H237.1" stroke="#ff66ff" stroke-width="0.7" stroke-dasharray="4 2.6"/>
<g fill="none" stroke="#ff4dff" stroke-width="0.7"><path d="M224.8 635.85L227.45 639.5L224.8 643.15L222.15 639.5Z"/></g>
<path d="M212.1 652.8H237.1" stroke="#7070ff" stroke-width="0.7" stroke-dasharray="3.4 1.3 0.8 1.3"/>
<g fill="none" stroke="#4f4fff" stroke-width="0.5"><path d="M222.3 652.8L227.3 652.8M224.8 650.3L224.8 655.3M223 651L226.6 654.6M223 654.6L226.6 651"/></g>
<path d="M212.1 666.3H237.1" stroke="#98b2dc" stroke-width="0.7"/>
<g fill="none" stroke="#8aa4d2" stroke-width="0.65"><circle cx="224.8" cy="666.3" r="2.55"/></g>
<text x="238.9" y="629.8" font-size="8.2" fill="#5e5e5e">No friction</text>
<text x="238.7" y="641.2" font-size="8.2" fill="#5e5e5e">F</text><text x="244.7" y="646.2" font-size="7.3" fill="#5e5e5e">s</text><text x="248.7" y="642.3" font-size="9.8" fill="#8a8a8a">&#215;</text><text x="254.7" y="641.2" font-size="8.2" fill="#5e5e5e">0.1</text>
<text x="238.9" y="655.9" font-size="8.2" fill="#5e5e5e">Standard</text>
<text x="238.7" y="668" font-size="8.2" fill="#5e5e5e">F</text><text x="244.7" y="673" font-size="7.3" fill="#5e5e5e">s</text><text x="248.7" y="669.1" font-size="9.8" fill="#8a8a8a">&#215;</text><text x="254.7" y="668" font-size="8.2" fill="#5e5e5e">10</text>
<path d="M418.5 830L694.5 830" fill="none" stroke="#c8c8c8" stroke-width="1.0"/>
<path d="M418.5 612.6L418.5 830.5" fill="none" stroke="#a9a9a9" stroke-width="1.0"/>
<path d="M418.5 830L418.5 827M464.5 830L464.5 827M510.5 830L510.5 827M556.5 830L556.5 827M602.5 830L602.5 827M648.5 830L648.5 827M694.5 830L694.5 827M418.5 830L421.5 830M418.5 793.77L421.5 793.77M418.5 757.53L421.5 757.53M418.5 721.3L421.5 721.3M418.5 685.07L421.5 685.07M418.5 648.83L421.5 648.83M418.5 612.6L421.5 612.6" fill="none" stroke="#c6c6c6" stroke-width="1.0"/>
<g font-size="8.4" fill="#5e5e5e"><text x="418.5" y="841.8" text-anchor="middle">450</text><text x="464.5" y="841.8" text-anchor="middle">500</text><text x="510.5" y="841.8" text-anchor="middle">550</text><text x="556.5" y="841.8" text-anchor="middle">600</text><text x="602.5" y="841.8" text-anchor="middle">650</text><text x="648.5" y="841.8" text-anchor="middle">700</text><text x="694.5" y="841.8" text-anchor="middle">750</text><text x="414.4" y="833.2" text-anchor="end">0</text><text x="414.4" y="796.97" text-anchor="end">10</text><text x="414.4" y="760.73" text-anchor="end">20</text><text x="414.4" y="724.5" text-anchor="end">30</text><text x="414.4" y="688.27" text-anchor="end">40</text><text x="414.4" y="652.03" text-anchor="end">50</text><text x="414.4" y="615.8" text-anchor="end">60</text></g>
<text x="556.5" y="856.6" text-anchor="middle" font-size="11.1" fill="#5e5e5e">V(m/s)</text>
<text transform="translate(400.1 721.3) rotate(-90)" text-anchor="middle" font-size="11.1" fill="#5e5e5e">A/e</text>
<text x="550" y="881.1" text-anchor="middle" font-family="Liberation Serif, serif" font-size="17.2" fill="#3a3a3a">(<tspan font-size="15.5" font-weight="bold" fill="#2a2a2a" dy="-0.6">f</tspan><tspan dy="0.6">)</tspan></text>
<path d="M427.7 824.93L446.1 824.93L464.5 824.93L466.34 819.13L482.9 818.04L501.3 816.41L519.7 814.78L538.1 812.61L556.5 810.07L574.9 806.81L593.3 803.19L611.7 797.75L630.1 789.78L648.5 777.46L666.9 754.27L685.3 702.82" fill="none" stroke="#808080" stroke-width="0.7"/>
<g fill="none" stroke="#606060" stroke-width="0.6"><path d="M427.7 821.59L430.6 826.59L424.8 826.59Z"/><path d="M446.1 821.59L449 826.59L443.2 826.59Z"/><path d="M464.5 821.59L467.4 826.59L461.6 826.59Z"/><path d="M466.34 815.8L469.24 820.8L463.44 820.8Z"/><path d="M482.9 814.71L485.8 819.71L480 819.71Z"/><path d="M501.3 813.08L504.2 818.08L498.4 818.08Z"/><path d="M519.7 811.45L522.6 816.45L516.8 816.45Z"/><path d="M538.1 809.27L541 814.27L535.2 814.27Z"/><path d="M556.5 806.74L559.4 811.74L553.6 811.74Z"/><path d="M574.9 803.48L577.8 808.48L572 808.48Z"/><path d="M593.3 799.85L596.2 804.85L590.4 804.85Z"/><path d="M611.7 794.42L614.6 799.42L608.8 799.42Z"/><path d="M630.1 786.45L633 791.45L627.2 791.45Z"/><path d="M648.5 774.13L651.4 779.13L645.6 779.13Z"/><path d="M666.9 750.94L669.8 755.94L664 755.94Z"/><path d="M685.3 699.49L688.2 704.49L682.4 704.49Z"/></g>
<path d="M427.7 830L583.18 830L583.18 825.29L596.52 825.29L596.52 780.36L611.7 772.39L630.1 756.81L648.5 731.81L666.9 689.41L685.3 612.6" fill="none" stroke="#ff66ff" stroke-width="0.7" stroke-dasharray="4 2.6"/>
<g fill="none" stroke="#ff4dff" stroke-width="0.7"><path d="M427.7 826.35L430.35 830L427.7 833.65L425.05 830Z"/><path d="M583.18 826.35L585.83 830L583.18 833.65L580.53 830Z"/><path d="M583.18 821.64L585.83 825.29L583.18 828.94L580.53 825.29Z"/><path d="M596.52 821.64L599.17 825.29L596.52 828.94L593.87 825.29Z"/><path d="M596.52 776.71L599.17 780.36L596.52 784.01L593.87 780.36Z"/><path d="M611.7 768.74L614.35 772.39L611.7 776.04L609.05 772.39Z"/><path d="M630.1 753.16L632.75 756.81L630.1 760.46L627.45 756.81Z"/><path d="M648.5 728.16L651.15 731.81L648.5 735.46L645.85 731.81Z"/><path d="M666.9 685.76L669.55 689.41L666.9 693.06L664.25 689.41Z"/><path d="M685.3 608.95L687.95 612.6L685.3 616.25L682.65 612.6Z"/></g>
<path d="M427.7 830L585.02 830L585.02 825.29L593.3 825.29L597.9 825.29L597.9 780.36L611.7 772.39L630.1 756.81L648.5 731.81L666.9 689.41L685.3 612.6" fill="none" stroke="#7070ff" stroke-width="0.65" stroke-dasharray="3.4 1.3 0.8 1.3"/>
<g fill="none" stroke="#4f4fff" stroke-width="0.5"><path d="M425.2 830L430.2 830M427.7 827.5L427.7 832.5M425.9 828.2L429.5 831.8M425.9 831.8L429.5 828.2"/><path d="M582.52 830L587.52 830M585.02 827.5L585.02 832.5M583.22 828.2L586.82 831.8M583.22 831.8L586.82 828.2"/><path d="M582.52 825.29L587.52 825.29M585.02 822.79L585.02 827.79M583.22 823.49L586.82 827.09M583.22 827.09L586.82 823.49"/><path d="M590.8 825.29L595.8 825.29M593.3 822.79L593.3 827.79M591.5 823.49L595.1 827.09M591.5 827.09L595.1 823.49"/><path d="M595.4 825.29L600.4 825.29M597.9 822.79L597.9 827.79M596.1 823.49L599.7 827.09M596.1 827.09L599.7 823.49"/><path d="M595.4 780.36L600.4 780.36M597.9 777.86L597.9 782.86M596.1 778.56L599.7 782.16M596.1 782.16L599.7 778.56"/><path d="M609.2 772.39L614.2 772.39M611.7 769.89L611.7 774.89M609.9 770.59L613.5 774.19M609.9 774.19L613.5 770.59"/><path d="M627.6 756.81L632.6 756.81M630.1 754.31L630.1 759.31M628.3 755.01L631.9 758.61M628.3 758.61L631.9 755.01"/><path d="M646 731.81L651 731.81M648.5 729.31L648.5 734.31M646.7 730.01L650.3 733.61M646.7 733.61L650.3 730.01"/><path d="M664.4 689.41L669.4 689.41M666.9 686.91L666.9 691.91M665.1 687.61L668.7 691.21M665.1 691.21L668.7 687.61"/><path d="M682.8 612.6L687.8 612.6M685.3 610.1L685.3 615.1M683.5 610.8L687.1 614.4M683.5 614.4L687.1 610.8"/></g>
<path d="M427.7 830L586.4 830L586.4 825.29L602.5 825.29L602.5 777.1L611.7 772.39L630.1 756.81L648.5 731.81L666.9 689.41L685.3 612.6" fill="none" stroke="#98b2dc" stroke-width="0.85"/>
<path d="M427.7 829.5L586.4 829.5" fill="none" stroke="#e4e7f7" stroke-width="1"/>
<path d="M427.7 830.5L586.4 830.5" fill="none" stroke="#c8d2e4" stroke-width="1"/>
<g fill="none" stroke="#8aa4d2" stroke-width="0.65"><circle cx="427.7" cy="830" r="2.55"/><circle cx="586.4" cy="830" r="2.55"/><circle cx="586.4" cy="825.29" r="2.55"/><circle cx="602.5" cy="825.29" r="2.55"/><circle cx="602.5" cy="777.1" r="2.55"/><circle cx="611.7" cy="772.39" r="2.55"/><circle cx="630.1" cy="756.81" r="2.55"/><circle cx="648.5" cy="731.81" r="2.55"/><circle cx="666.9" cy="689.41" r="2.55"/><circle cx="685.3" cy="612.6" r="2.55"/></g>
<rect x="577.5" y="617.3" width="70.6" height="55" fill="#fff" stroke="#cccccc" stroke-width="1"/>
<path d="M580.1 624.5H605.1" stroke="#808080" stroke-width="0.7"/>
<g fill="none" stroke="#606060" stroke-width="0.6"><path d="M592.8 621.17L595.7 626.17L589.9 626.17Z"/></g>
<path d="M580.1 637.5H605.1" stroke="#ff66ff" stroke-width="0.7" stroke-dasharray="4 2.6"/>
<g fill="none" stroke="#ff4dff" stroke-width="0.7"><path d="M592.8 633.85L595.45 637.5L592.8 641.15L590.15 637.5Z"/></g>
<path d="M580.1 651H605.1" stroke="#7070ff" stroke-width="0.7" stroke-dasharray="3.4 1.3 0.8 1.3"/>
<g fill="none" stroke="#4f4fff" stroke-width="0.5"><path d="M590.3 651L595.3 651M592.8 648.5L592.8 653.5M591 649.2L594.6 652.8M591 652.8L594.6 649.2"/></g>
<path d="M580.1 664.5H605.1" stroke="#98b2dc" stroke-width="0.7"/>
<g fill="none" stroke="#8aa4d2" stroke-width="0.65"><circle cx="592.8" cy="664.5" r="2.55"/></g>
<text x="606.9" y="627.8" font-size="8.2" fill="#5e5e5e">No friction</text>
<text x="606.7" y="639.2" font-size="8.2" fill="#5e5e5e">V</text><text x="612.7" y="644.2" font-size="7.3" fill="#5e5e5e">s</text><text x="616.7" y="640.3" font-size="9.8" fill="#8a8a8a">&#215;</text><text x="622.7" y="639.2" font-size="8.2" fill="#5e5e5e">0.1</text>
<text x="606.9" y="654.1" font-size="8.2" fill="#5e5e5e">Standard</text>
<text x="606.7" y="666.2" font-size="8.2" fill="#5e5e5e">V</text><text x="612.7" y="671.2" font-size="7.3" fill="#5e5e5e">s</text><text x="616.7" y="667.3" font-size="9.8" fill="#8a8a8a">&#215;</text><text x="622.7" y="666.2" font-size="8.2" fill="#5e5e5e">10</text>
</svg>
</body></html>
